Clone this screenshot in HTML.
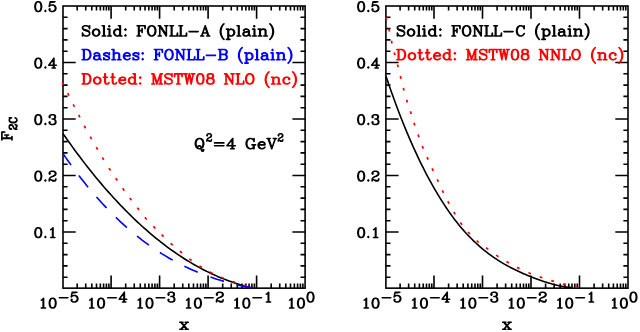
<!DOCTYPE html>
<html><head><meta charset="utf-8"><title>F2c</title>
<style>html,body{margin:0;padding:0;background:#fff;font-family:"Liberation Sans",sans-serif}svg{display:block}</style></head>
<body><svg width="640" height="332" viewBox="0 0 640 332">
<rect width="640" height="332" fill="#fff"/>
<rect x="63.00" y="6.00" width="242.10" height="282.15" fill="none" stroke="#000" stroke-width="1.6"/>
<path d="M77.20 288.15v-4.60M77.20 6.00v4.60M85.74 288.15v-4.60M85.74 6.00v4.60M91.80 288.15v-4.60M91.80 6.00v4.60M96.50 288.15v-4.60M96.50 6.00v4.60M100.34 288.15v-4.60M100.34 6.00v4.60M103.59 288.15v-4.60M103.59 6.00v4.60M106.40 288.15v-4.60M106.40 6.00v4.60M108.88 288.15v-4.60M108.88 6.00v4.60M111.10 288.15v-12.70M111.10 6.00v12.70M125.70 288.15v-4.60M125.70 6.00v4.60M134.24 288.15v-4.60M134.24 6.00v4.60M140.30 288.15v-4.60M140.30 6.00v4.60M145.00 288.15v-4.60M145.00 6.00v4.60M148.84 288.15v-4.60M148.84 6.00v4.60M152.09 288.15v-4.60M152.09 6.00v4.60M154.90 288.15v-4.60M154.90 6.00v4.60M157.38 288.15v-4.60M157.38 6.00v4.60M159.60 288.15v-12.70M159.60 6.00v12.70M174.20 288.15v-4.60M174.20 6.00v4.60M182.74 288.15v-4.60M182.74 6.00v4.60M188.80 288.15v-4.60M188.80 6.00v4.60M193.50 288.15v-4.60M193.50 6.00v4.60M197.34 288.15v-4.60M197.34 6.00v4.60M200.59 288.15v-4.60M200.59 6.00v4.60M203.40 288.15v-4.60M203.40 6.00v4.60M205.88 288.15v-4.60M205.88 6.00v4.60M208.10 288.15v-12.70M208.10 6.00v12.70M222.70 288.15v-4.60M222.70 6.00v4.60M231.24 288.15v-4.60M231.24 6.00v4.60M237.30 288.15v-4.60M237.30 6.00v4.60M242.00 288.15v-4.60M242.00 6.00v4.60M245.84 288.15v-4.60M245.84 6.00v4.60M249.09 288.15v-4.60M249.09 6.00v4.60M251.90 288.15v-4.60M251.90 6.00v4.60M254.38 288.15v-4.60M254.38 6.00v4.60M256.60 288.15v-12.70M256.60 6.00v12.70M271.20 288.15v-4.60M271.20 6.00v4.60M279.74 288.15v-4.60M279.74 6.00v4.60M285.80 288.15v-4.60M285.80 6.00v4.60M290.50 288.15v-4.60M290.50 6.00v4.60M294.34 288.15v-4.60M294.34 6.00v4.60M297.59 288.15v-4.60M297.59 6.00v4.60M300.40 288.15v-4.60M300.40 6.00v4.60M302.88 288.15v-4.60M302.88 6.00v4.60M63.00 277.20h4.60M305.10 277.20h-4.60M63.00 265.90h4.60M305.10 265.90h-4.60M63.00 254.60h4.60M305.10 254.60h-4.60M63.00 243.30h4.60M305.10 243.30h-4.60M63.00 232.00h12.70M305.10 232.00h-12.70M63.00 220.70h4.60M305.10 220.70h-4.60M63.00 209.40h4.60M305.10 209.40h-4.60M63.00 198.10h4.60M305.10 198.10h-4.60M63.00 186.80h4.60M305.10 186.80h-4.60M63.00 175.50h12.70M305.10 175.50h-12.70M63.00 164.20h4.60M305.10 164.20h-4.60M63.00 152.90h4.60M305.10 152.90h-4.60M63.00 141.60h4.60M305.10 141.60h-4.60M63.00 130.30h4.60M305.10 130.30h-4.60M63.00 119.00h12.70M305.10 119.00h-12.70M63.00 107.70h4.60M305.10 107.70h-4.60M63.00 96.40h4.60M305.10 96.40h-4.60M63.00 85.10h4.60M305.10 85.10h-4.60M63.00 73.80h4.60M305.10 73.80h-4.60M63.00 62.50h12.70M305.10 62.50h-12.70M63.00 51.20h4.60M305.10 51.20h-4.60M63.00 39.90h4.60M305.10 39.90h-4.60M63.00 28.60h4.60M305.10 28.60h-4.60M63.00 17.30h4.60M305.10 17.30h-4.60" stroke="#000" stroke-width="1.6" fill="none"/>
<rect x="385.90" y="6.00" width="242.10" height="282.15" fill="none" stroke="#000" stroke-width="1.6"/>
<path d="M400.10 288.15v-4.60M400.10 6.00v4.60M408.64 288.15v-4.60M408.64 6.00v4.60M414.70 288.15v-4.60M414.70 6.00v4.60M419.40 288.15v-4.60M419.40 6.00v4.60M423.24 288.15v-4.60M423.24 6.00v4.60M426.49 288.15v-4.60M426.49 6.00v4.60M429.30 288.15v-4.60M429.30 6.00v4.60M431.78 288.15v-4.60M431.78 6.00v4.60M434.00 288.15v-12.70M434.00 6.00v12.70M448.60 288.15v-4.60M448.60 6.00v4.60M457.14 288.15v-4.60M457.14 6.00v4.60M463.20 288.15v-4.60M463.20 6.00v4.60M467.90 288.15v-4.60M467.90 6.00v4.60M471.74 288.15v-4.60M471.74 6.00v4.60M474.99 288.15v-4.60M474.99 6.00v4.60M477.80 288.15v-4.60M477.80 6.00v4.60M480.28 288.15v-4.60M480.28 6.00v4.60M482.50 288.15v-12.70M482.50 6.00v12.70M497.10 288.15v-4.60M497.10 6.00v4.60M505.64 288.15v-4.60M505.64 6.00v4.60M511.70 288.15v-4.60M511.70 6.00v4.60M516.40 288.15v-4.60M516.40 6.00v4.60M520.24 288.15v-4.60M520.24 6.00v4.60M523.49 288.15v-4.60M523.49 6.00v4.60M526.30 288.15v-4.60M526.30 6.00v4.60M528.78 288.15v-4.60M528.78 6.00v4.60M531.00 288.15v-12.70M531.00 6.00v12.70M545.60 288.15v-4.60M545.60 6.00v4.60M554.14 288.15v-4.60M554.14 6.00v4.60M560.20 288.15v-4.60M560.20 6.00v4.60M564.90 288.15v-4.60M564.90 6.00v4.60M568.74 288.15v-4.60M568.74 6.00v4.60M571.99 288.15v-4.60M571.99 6.00v4.60M574.80 288.15v-4.60M574.80 6.00v4.60M577.28 288.15v-4.60M577.28 6.00v4.60M579.50 288.15v-12.70M579.50 6.00v12.70M594.10 288.15v-4.60M594.10 6.00v4.60M602.64 288.15v-4.60M602.64 6.00v4.60M608.70 288.15v-4.60M608.70 6.00v4.60M613.40 288.15v-4.60M613.40 6.00v4.60M617.24 288.15v-4.60M617.24 6.00v4.60M620.49 288.15v-4.60M620.49 6.00v4.60M623.30 288.15v-4.60M623.30 6.00v4.60M625.78 288.15v-4.60M625.78 6.00v4.60M385.90 277.20h4.60M628.00 277.20h-4.60M385.90 265.90h4.60M628.00 265.90h-4.60M385.90 254.60h4.60M628.00 254.60h-4.60M385.90 243.30h4.60M628.00 243.30h-4.60M385.90 232.00h12.70M628.00 232.00h-12.70M385.90 220.70h4.60M628.00 220.70h-4.60M385.90 209.40h4.60M628.00 209.40h-4.60M385.90 198.10h4.60M628.00 198.10h-4.60M385.90 186.80h4.60M628.00 186.80h-4.60M385.90 175.50h12.70M628.00 175.50h-12.70M385.90 164.20h4.60M628.00 164.20h-4.60M385.90 152.90h4.60M628.00 152.90h-4.60M385.90 141.60h4.60M628.00 141.60h-4.60M385.90 130.30h4.60M628.00 130.30h-4.60M385.90 119.00h12.70M628.00 119.00h-12.70M385.90 107.70h4.60M628.00 107.70h-4.60M385.90 96.40h4.60M628.00 96.40h-4.60M385.90 85.10h4.60M628.00 85.10h-4.60M385.90 73.80h4.60M628.00 73.80h-4.60M385.90 62.50h12.70M628.00 62.50h-12.70M385.90 51.20h4.60M628.00 51.20h-4.60M385.90 39.90h4.60M628.00 39.90h-4.60M385.90 28.60h4.60M628.00 28.60h-4.60M385.90 17.30h4.60M628.00 17.30h-4.60" stroke="#000" stroke-width="1.6" fill="none"/>
<path d="M63.00 133.59L65.40 137.04L67.79 140.44L70.19 143.81L72.58 147.13L74.98 150.41L77.38 153.65L79.77 156.85L82.17 160.01L84.57 163.13L86.96 166.22L89.36 169.25L91.75 172.25L94.15 175.22L96.55 178.14L98.94 181.02L101.34 183.86L103.74 186.66L106.13 189.42L108.53 192.15L110.92 194.83L113.32 197.47L115.72 200.08L118.11 202.65L120.51 205.18L122.91 207.67L125.30 210.12L127.70 212.53L130.09 214.91L132.49 217.25L134.89 219.55L137.28 221.81L139.68 224.03L142.07 226.22L144.47 228.36L146.87 230.47L149.26 232.55L151.66 234.58L154.06 236.58L156.45 238.55L158.85 240.47L161.24 242.36L163.64 244.21L166.04 246.02L168.43 247.80L170.83 249.54L173.23 251.25L175.62 252.92L178.02 254.55L180.41 256.15L182.81 257.71L185.21 259.24L187.60 260.73L190.00 262.18L192.39 263.60L194.79 264.98L197.19 266.33L199.58 267.65L201.98 268.93L204.38 270.17L206.77 271.38L209.17 272.55L211.56 273.69L213.96 274.80L216.36 275.87L218.75 276.90L221.15 277.91L223.55 278.87L225.94 279.81L228.34 280.71L230.73 281.58L233.13 282.41L235.53 283.21L237.92 283.97L240.32 284.71L242.72 285.41L245.11 286.07L247.51 286.71L249.90 287.31L252.30 287.85" stroke="#000" stroke-width="1.6" fill="none" stroke-linejoin="round"/>
<path d="M386.00 76.23L388.08 82.38L390.17 88.41L392.25 94.31L394.34 100.09L396.42 105.74L398.51 111.27L400.59 116.68L402.67 121.97L404.76 127.14L406.84 132.18L408.93 137.11L411.01 141.92L413.10 146.62L415.18 151.20L417.26 155.68L419.35 160.05L421.43 164.31L423.52 168.48L425.60 172.54L427.69 176.51L429.77 180.38L431.85 184.16L433.94 187.85L436.02 191.44L438.11 194.95L440.19 198.36L442.28 201.67L444.36 204.90L446.44 208.04L448.53 211.08L450.61 214.04L452.70 216.90L454.78 219.67L456.87 222.35L458.95 224.95L461.03 227.45L463.12 229.87L465.20 232.21L467.29 234.47L469.37 236.66L471.46 238.78L473.54 240.82L475.62 242.79L477.71 244.70L479.79 246.55L481.88 248.33L483.96 250.05L486.04 251.71L488.13 253.32L490.21 254.86L492.30 256.36L494.38 257.80L496.47 259.20L498.55 260.55L500.63 261.85L502.72 263.10L504.80 264.32L506.89 265.49L508.97 266.63L511.06 267.73L513.14 268.79L515.22 269.82L517.31 270.82L519.39 271.79L521.48 272.74L523.56 273.66L525.65 274.55L527.73 275.43L529.81 276.28L531.90 277.12L533.98 277.94L536.07 278.73L538.15 279.51L540.24 280.26L542.32 280.98L544.40 281.68L546.49 282.35L548.57 282.99L550.66 283.60L552.74 284.17L554.83 284.72L556.91 285.22L558.99 285.69L561.08 286.12L563.16 286.50L565.25 286.85L567.33 287.15L569.42 287.40L571.50 287.61" stroke="#000" stroke-width="1.6" fill="none" stroke-linejoin="round"/>
<path d="M62.80 153.34L64.46 155.75L66.12 158.14L67.78 160.49L69.44 162.82L71.10 165.12M78.90 175.57L80.74 177.95L82.58 180.30L84.42 182.61L86.26 184.89L88.10 187.14M96.50 197.01L98.52 199.29L100.54 201.53L102.56 203.73L104.58 205.90L106.60 208.03M115.90 217.40L118.10 219.51L120.30 221.58L122.50 223.61L124.70 225.60L126.90 227.56M137.00 236.04L139.38 237.93L141.76 239.77L144.14 241.57L146.52 243.33L148.90 245.05M159.90 252.49L162.46 254.10L165.02 255.67L167.58 257.20L170.14 258.69L172.70 260.13M184.40 266.23L187.06 267.50L189.72 268.74L192.38 269.93L195.04 271.09L197.70 272.21M210.50 277.08L213.20 278.01L215.90 278.90L218.60 279.76L221.30 280.59L224.00 281.38M237.00 284.79L240.00 285.48L243.00 286.14L246.00 286.76L249.00 287.36L252.00 287.93" stroke="#0000ff" stroke-width="1.6" fill="none"/>
<path d="M62.27 82.35L63.53 84.85M67.68 93.14L68.92 95.66M73.17 104.45L74.43 106.95M78.65 114.86L79.95 117.34M84.24 125.76L85.56 128.24M90.21 136.68L91.59 139.12M96.30 147.19L97.70 149.61M102.27 157.51L103.73 159.89M109.04 168.13L110.56 170.47M115.71 178.24L117.29 180.56M122.69 188.36L124.31 190.64M129.75 197.99L131.45 200.21M137.33 207.70L139.07 209.90M144.88 217.34L146.72 219.46M153.32 226.40L155.28 228.40M161.60 234.72L163.60 236.68M170.65 243.37L172.75 245.23M179.92 251.21L182.08 252.99M189.38 258.87L191.62 260.53M199.51 265.96L201.89 267.44M209.95 271.96L212.45 273.24M221.01 277.17L223.59 278.23M232.47 281.46L235.13 282.34M244.16 285.00L246.84 285.80" stroke="#ff0000" stroke-width="1.7" fill="none"/>
<path d="M385.86 16.94L386.54 19.66M388.88 28.84L389.52 31.56M391.39 40.74L392.01 43.46M394.25 52.44L394.95 55.16M397.45 64.44L398.15 67.16M400.36 76.04L401.04 78.76M403.34 87.85L404.06 90.55M406.60 99.76L407.40 102.44M410.37 111.37L411.23 114.03M413.96 122.87L414.84 125.53M418.02 134.58L418.98 137.22M422.28 146.00L423.32 148.60M427.03 157.12L428.17 159.68M432.12 168.33L433.28 170.87M437.21 179.43L438.39 181.97M442.28 190.34L443.52 192.86M447.84 201.27L449.16 203.73M453.78 212.00L455.22 214.40M460.37 222.47L462.03 224.73M468.05 231.97L469.95 234.03M476.64 240.59L478.76 242.41M486.07 247.77L488.33 249.43M496.14 255.12L498.46 256.68M506.49 261.60L508.91 263.00M517.05 267.37L519.55 268.63M528.40 272.77L531.00 273.83M539.77 276.85L542.43 277.75M551.26 280.59L553.94 281.41M562.94 284.06L565.66 284.74M574.83 286.70L577.57 287.30" stroke="#ff0000" stroke-width="1.7" fill="none"/>
<path d="M37.78 1.8L36.36 2.26L35.4 3.65L34.93 5.96L34.93 7.34L35.4 9.65L36.36 11.04L37.78 11.5L38.74 11.5L40.16 11.04L41.12 9.65L41.59 7.34L41.59 5.96L41.12 3.65L40.16 2.26L38.74 1.8L37.78 1.8M37.78 1.8L36.83 2.26L36.36 2.72L35.88 3.65L35.4 5.96L35.4 7.34L35.88 9.65L36.36 10.58L36.83 11.04L37.78 11.5M38.74 11.5L39.69 11.04L40.16 10.58L40.64 9.65L41.12 7.34L41.12 5.96L40.64 3.65L40.16 2.72L39.69 2.26L38.74 1.8M45.4 10.58L44.92 11.04L45.4 11.5L45.88 11.04L45.4 10.58M50.16 1.8L49.21 6.42M49.21 6.42L50.16 5.49L51.59 5.03L53.02 5.03L54.44 5.49L55.4 6.42L55.87 7.8L55.87 8.73L55.4 10.11L54.44 11.04L53.02 11.5L51.59 11.5L50.16 11.04L49.68 10.58L49.21 9.65L49.21 9.19L49.68 8.73L50.16 9.19L49.68 9.65M53.02 5.03L53.97 5.49L54.92 6.42L55.4 7.8L55.4 8.73L54.92 10.11L53.97 11.04L53.02 11.5M50.16 1.8L54.92 1.8M50.16 2.26L52.54 2.26L54.92 1.8" stroke="#000" stroke-width="1.55" fill="none" stroke-linecap="round" stroke-linejoin="round"/>
<path d="M37.78 58.3L36.36 58.76L35.4 60.15L34.93 62.46L34.93 63.84L35.4 66.15L36.36 67.54L37.78 68L38.74 68L40.16 67.54L41.12 66.15L41.59 63.84L41.59 62.46L41.12 60.15L40.16 58.76L38.74 58.3L37.78 58.3M37.78 58.3L36.83 58.76L36.36 59.22L35.88 60.15L35.4 62.46L35.4 63.84L35.88 66.15L36.36 67.08L36.83 67.54L37.78 68M38.74 68L39.69 67.54L40.16 67.08L40.64 66.15L41.12 63.84L41.12 62.46L40.64 60.15L40.16 59.22L39.69 58.76L38.74 58.3M45.4 67.08L44.92 67.54L45.4 68L45.88 67.54L45.4 67.08M53.49 59.22L53.49 68M53.97 58.3L53.97 68M53.97 58.3L48.73 65.23L56.35 65.23M52.06 68L55.4 68" stroke="#000" stroke-width="1.55" fill="none" stroke-linecap="round" stroke-linejoin="round"/>
<path d="M37.78 114.8L36.36 115.26L35.4 116.65L34.93 118.96L34.93 120.34L35.4 122.65L36.36 124.04L37.78 124.5L38.74 124.5L40.16 124.04L41.12 122.65L41.59 120.34L41.59 118.96L41.12 116.65L40.16 115.26L38.74 114.8L37.78 114.8M37.78 114.8L36.83 115.26L36.36 115.72L35.88 116.65L35.4 118.96L35.4 120.34L35.88 122.65L36.36 123.58L36.83 124.04L37.78 124.5M38.74 124.5L39.69 124.04L40.16 123.58L40.64 122.65L41.12 120.34L41.12 118.96L40.64 116.65L40.16 115.72L39.69 115.26L38.74 114.8M45.4 123.58L44.92 124.04L45.4 124.5L45.88 124.04L45.4 123.58M49.68 116.65L50.16 117.11L49.68 117.57L49.21 117.11L49.21 116.65L49.68 115.72L50.16 115.26L51.59 114.8L53.49 114.8L54.92 115.26L55.4 116.18L55.4 117.57L54.92 118.49L53.49 118.96L52.06 118.96M53.49 114.8L54.44 115.26L54.92 116.18L54.92 117.57L54.44 118.49L53.49 118.96M53.49 118.96L54.44 119.42L55.4 120.34L55.87 121.27L55.87 122.65L55.4 123.58L54.92 124.04L53.49 124.5L51.59 124.5L50.16 124.04L49.68 123.58L49.21 122.65L49.21 122.19L49.68 121.73L50.16 122.19L49.68 122.65M54.92 119.88L55.4 121.27L55.4 122.65L54.92 123.58L54.44 124.04L53.49 124.5" stroke="#000" stroke-width="1.55" fill="none" stroke-linecap="round" stroke-linejoin="round"/>
<path d="M37.78 171.3L36.36 171.76L35.4 173.15L34.93 175.46L34.93 176.84L35.4 179.15L36.36 180.54L37.78 181L38.74 181L40.16 180.54L41.12 179.15L41.59 176.84L41.59 175.46L41.12 173.15L40.16 171.76L38.74 171.3L37.78 171.3M37.78 171.3L36.83 171.76L36.36 172.22L35.88 173.15L35.4 175.46L35.4 176.84L35.88 179.15L36.36 180.08L36.83 180.54L37.78 181M38.74 181L39.69 180.54L40.16 180.08L40.64 179.15L41.12 176.84L41.12 175.46L40.64 173.15L40.16 172.22L39.69 171.76L38.74 171.3M45.4 180.08L44.92 180.54L45.4 181L45.88 180.54L45.4 180.08M49.68 173.15L50.16 173.61L49.68 174.07L49.21 173.61L49.21 173.15L49.68 172.22L50.16 171.76L51.59 171.3L53.49 171.3L54.92 171.76L55.4 172.22L55.87 173.15L55.87 174.07L55.4 174.99L53.97 175.92L51.59 176.84L50.64 177.3L49.68 178.23L49.21 179.61L49.21 181M53.49 171.3L54.44 171.76L54.92 172.22L55.4 173.15L55.4 174.07L54.92 174.99L53.49 175.92L51.59 176.84M49.21 180.08L49.68 179.61L50.64 179.61L53.02 180.54L54.44 180.54L55.4 180.08L55.87 179.61M50.64 179.61L53.02 181L54.92 181L55.4 180.54L55.87 179.61L55.87 178.69" stroke="#000" stroke-width="1.55" fill="none" stroke-linecap="round" stroke-linejoin="round"/>
<path d="M37.78 227.8L36.36 228.26L35.4 229.65L34.93 231.96L34.93 233.34L35.4 235.65L36.36 237.04L37.78 237.5L38.74 237.5L40.16 237.04L41.12 235.65L41.59 233.34L41.59 231.96L41.12 229.65L40.16 228.26L38.74 227.8L37.78 227.8M37.78 227.8L36.83 228.26L36.36 228.72L35.88 229.65L35.4 231.96L35.4 233.34L35.88 235.65L36.36 236.58L36.83 237.04L37.78 237.5M38.74 237.5L39.69 237.04L40.16 236.58L40.64 235.65L41.12 233.34L41.12 231.96L40.64 229.65L40.16 228.72L39.69 228.26L38.74 227.8M45.4 236.58L44.92 237.04L45.4 237.5L45.88 237.04L45.4 236.58M50.64 229.65L51.59 229.18L53.02 227.8L53.02 237.5M52.54 228.26L52.54 237.5M50.64 237.5L54.92 237.5" stroke="#000" stroke-width="1.55" fill="none" stroke-linecap="round" stroke-linejoin="round"/>
<path d="M41.23 300.15L42.18 299.68L43.61 298.3L43.61 308M43.13 298.76L43.13 308M41.23 308L45.51 308M52.17 298.3L50.75 298.76L49.79 300.15L49.32 302.46L49.32 303.84L49.79 306.15L50.75 307.54L52.17 308L53.13 308L54.55 307.54L55.51 306.15L55.98 303.84L55.98 302.46L55.51 300.15L54.55 298.76L53.13 298.3L52.17 298.3M52.17 298.3L51.22 298.76L50.75 299.22L50.27 300.15L49.79 302.46L49.79 303.84L50.27 306.15L50.75 307.08L51.22 307.54L52.17 308M53.13 308L54.08 307.54L54.55 307.08L55.03 306.15L55.51 303.84L55.51 302.46L55.03 300.15L54.55 299.22L54.08 298.76L53.13 298.3" stroke="#000" stroke-width="1.55" fill="none" stroke-linecap="round" stroke-linejoin="round"/>
<path d="M59.31 297.84L67.88 297.84M72.17 292.3L71.21 296.92M71.21 296.92L72.17 295.99L73.59 295.53L75.02 295.53L76.45 295.99L77.4 296.92L77.88 298.3L77.88 299.23L77.4 300.61L76.45 301.54L75.02 302L73.59 302L72.17 301.54L71.69 301.08L71.21 300.15L71.21 299.69L71.69 299.23L72.17 299.69L71.69 300.15M75.02 295.53L75.97 295.99L76.93 296.92L77.4 298.3L77.4 299.23L76.93 300.61L75.97 301.54L75.02 302M72.17 292.3L76.93 292.3M72.17 292.76L74.55 292.76L76.93 292.3" stroke="#000" stroke-width="1.55" fill="none" stroke-linecap="round" stroke-linejoin="round"/>
<path d="M89.65 300.15L90.6 299.68L92.03 298.3L92.03 308M91.55 298.76L91.55 308M89.65 308L93.93 308M100.59 298.3L99.17 298.76L98.21 300.15L97.74 302.46L97.74 303.84L98.21 306.15L99.17 307.54L100.59 308L101.55 308L102.97 307.54L103.93 306.15L104.4 303.84L104.4 302.46L103.93 300.15L102.97 298.76L101.55 298.3L100.59 298.3M100.59 298.3L99.64 298.76L99.17 299.22L98.69 300.15L98.21 302.46L98.21 303.84L98.69 306.15L99.17 307.08L99.64 307.54L100.59 308M101.55 308L102.5 307.54L102.97 307.08L103.45 306.15L103.93 303.84L103.93 302.46L103.45 300.15L102.97 299.22L102.5 298.76L101.55 298.3" stroke="#000" stroke-width="1.55" fill="none" stroke-linecap="round" stroke-linejoin="round"/>
<path d="M107.73 297.84L116.3 297.84M123.92 293.22L123.92 302M124.39 292.3L124.39 302M124.39 292.3L119.16 299.23L126.77 299.23M122.49 302L125.82 302" stroke="#000" stroke-width="1.55" fill="none" stroke-linecap="round" stroke-linejoin="round"/>
<path d="M138.07 300.15L139.02 299.68L140.45 298.3L140.45 308M139.97 298.76L139.97 308M138.07 308L142.35 308M149.01 298.3L147.59 298.76L146.63 300.15L146.16 302.46L146.16 303.84L146.63 306.15L147.59 307.54L149.01 308L149.97 308L151.39 307.54L152.35 306.15L152.82 303.84L152.82 302.46L152.35 300.15L151.39 298.76L149.97 298.3L149.01 298.3M149.01 298.3L148.06 298.76L147.59 299.22L147.11 300.15L146.63 302.46L146.63 303.84L147.11 306.15L147.59 307.08L148.06 307.54L149.01 308M149.97 308L150.92 307.54L151.39 307.08L151.87 306.15L152.35 303.84L152.35 302.46L151.87 300.15L151.39 299.22L150.92 298.76L149.97 298.3" stroke="#000" stroke-width="1.55" fill="none" stroke-linecap="round" stroke-linejoin="round"/>
<path d="M156.15 297.84L164.72 297.84M168.53 294.15L169.01 294.61L168.53 295.07L168.05 294.61L168.05 294.15L168.53 293.22L169.01 292.76L170.43 292.3L172.34 292.3L173.77 292.76L174.24 293.68L174.24 295.07L173.77 295.99L172.34 296.46L170.91 296.46M172.34 292.3L173.29 292.76L173.77 293.68L173.77 295.07L173.29 295.99L172.34 296.46M172.34 296.46L173.29 296.92L174.24 297.84L174.72 298.77L174.72 300.15L174.24 301.08L173.77 301.54L172.34 302L170.43 302L169.01 301.54L168.53 301.08L168.05 300.15L168.05 299.69L168.53 299.23L169.01 299.69L168.53 300.15M173.77 297.38L174.24 298.77L174.24 300.15L173.77 301.08L173.29 301.54L172.34 302" stroke="#000" stroke-width="1.55" fill="none" stroke-linecap="round" stroke-linejoin="round"/>
<path d="M186.49 300.15L187.44 299.68L188.87 298.3L188.87 308M188.39 298.76L188.39 308M186.49 308L190.77 308M197.43 298.3L196.01 298.76L195.05 300.15L194.58 302.46L194.58 303.84L195.05 306.15L196.01 307.54L197.43 308L198.39 308L199.81 307.54L200.77 306.15L201.24 303.84L201.24 302.46L200.77 300.15L199.81 298.76L198.39 298.3L197.43 298.3M197.43 298.3L196.48 298.76L196.01 299.22L195.53 300.15L195.05 302.46L195.05 303.84L195.53 306.15L196.01 307.08L196.48 307.54L197.43 308M198.39 308L199.34 307.54L199.81 307.08L200.29 306.15L200.77 303.84L200.77 302.46L200.29 300.15L199.81 299.22L199.34 298.76L198.39 298.3" stroke="#000" stroke-width="1.55" fill="none" stroke-linecap="round" stroke-linejoin="round"/>
<path d="M204.57 297.84L213.14 297.84M216.95 294.15L217.43 294.61L216.95 295.07L216.47 294.61L216.47 294.15L216.95 293.22L217.43 292.76L218.85 292.3L220.76 292.3L222.19 292.76L222.66 293.22L223.14 294.15L223.14 295.07L222.66 295.99L221.23 296.92L218.85 297.84L217.9 298.3L216.95 299.23L216.47 300.61L216.47 302M220.76 292.3L221.71 292.76L222.19 293.22L222.66 294.15L222.66 295.07L222.19 295.99L220.76 296.92L218.85 297.84M216.47 301.08L216.95 300.61L217.9 300.61L220.28 301.54L221.71 301.54L222.66 301.08L223.14 300.61M217.9 300.61L220.28 302L222.19 302L222.66 301.54L223.14 300.61L223.14 299.69" stroke="#000" stroke-width="1.55" fill="none" stroke-linecap="round" stroke-linejoin="round"/>
<path d="M234.91 300.15L235.86 299.68L237.29 298.3L237.29 308M236.81 298.76L236.81 308M234.91 308L239.19 308M245.85 298.3L244.43 298.76L243.47 300.15L243 302.46L243 303.84L243.47 306.15L244.43 307.54L245.85 308L246.81 308L248.23 307.54L249.19 306.15L249.66 303.84L249.66 302.46L249.19 300.15L248.23 298.76L246.81 298.3L245.85 298.3M245.85 298.3L244.9 298.76L244.43 299.22L243.95 300.15L243.47 302.46L243.47 303.84L243.95 306.15L244.43 307.08L244.9 307.54L245.85 308M246.81 308L247.76 307.54L248.23 307.08L248.71 306.15L249.19 303.84L249.19 302.46L248.71 300.15L248.23 299.22L247.76 298.76L246.81 298.3" stroke="#000" stroke-width="1.55" fill="none" stroke-linecap="round" stroke-linejoin="round"/>
<path d="M252.99 297.84L261.56 297.84M266.32 294.15L267.27 293.68L268.7 292.3L268.7 302M268.23 292.76L268.23 302M266.32 302L270.61 302" stroke="#000" stroke-width="1.55" fill="none" stroke-linecap="round" stroke-linejoin="round"/>
<path d="M289.57 300.15L290.52 299.68L291.95 298.3L291.95 308M291.47 298.76L291.47 308M289.57 308L293.85 308M300.51 298.3L299.09 298.76L298.13 300.15L297.66 302.46L297.66 303.84L298.13 306.15L299.09 307.54L300.51 308L301.47 308L302.89 307.54L303.85 306.15L304.32 303.84L304.32 302.46L303.85 300.15L302.89 298.76L301.47 298.3L300.51 298.3M300.51 298.3L299.56 298.76L299.09 299.22L298.61 300.15L298.13 302.46L298.13 303.84L298.61 306.15L299.09 307.08L299.56 307.54L300.51 308M301.47 308L302.42 307.54L302.89 307.08L303.37 306.15L303.85 303.84L303.85 302.46L303.37 300.15L302.89 299.22L302.42 298.76L301.47 298.3" stroke="#000" stroke-width="1.55" fill="none" stroke-linecap="round" stroke-linejoin="round"/>
<path d="M310.03 292.3L308.61 292.76L307.65 294.15L307.18 296.46L307.18 297.84L307.65 300.15L308.61 301.54L310.03 302L310.99 302L312.41 301.54L313.37 300.15L313.84 297.84L313.84 296.46L313.37 294.15L312.41 292.76L310.99 292.3L310.03 292.3M310.03 292.3L309.08 292.76L308.61 293.22L308.13 294.15L307.65 296.46L307.65 297.84L308.13 300.15L308.61 301.08L309.08 301.54L310.03 302M310.99 302L311.94 301.54L312.41 301.08L312.89 300.15L313.37 297.84L313.37 296.46L312.89 294.15L312.41 293.22L311.94 292.76L310.99 292.3" stroke="#000" stroke-width="1.55" fill="none" stroke-linecap="round" stroke-linejoin="round"/>
<path d="M180.87 322.2L186.7 329.2M181.4 322.2L187.23 329.2M187.23 322.2L180.87 329.2M179.81 322.2L182.99 322.2M185.11 322.2L188.29 322.2M179.81 329.2L182.99 329.2M185.11 329.2L188.29 329.2" stroke="#000" stroke-width="1.65" fill="none" stroke-linecap="round" stroke-linejoin="round"/>
<path d="M360.68 1.8L359.26 2.26L358.3 3.65L357.83 5.96L357.83 7.34L358.3 9.65L359.26 11.04L360.68 11.5L361.64 11.5L363.06 11.04L364.02 9.65L364.49 7.34L364.49 5.96L364.02 3.65L363.06 2.26L361.64 1.8L360.68 1.8M360.68 1.8L359.73 2.26L359.26 2.72L358.78 3.65L358.3 5.96L358.3 7.34L358.78 9.65L359.26 10.58L359.73 11.04L360.68 11.5M361.64 11.5L362.59 11.04L363.06 10.58L363.54 9.65L364.02 7.34L364.02 5.96L363.54 3.65L363.06 2.72L362.59 2.26L361.64 1.8M368.3 10.58L367.82 11.04L368.3 11.5L368.78 11.04L368.3 10.58M373.06 1.8L372.11 6.42M372.11 6.42L373.06 5.49L374.49 5.03L375.92 5.03L377.34 5.49L378.3 6.42L378.77 7.8L378.77 8.73L378.3 10.11L377.34 11.04L375.92 11.5L374.49 11.5L373.06 11.04L372.58 10.58L372.11 9.65L372.11 9.19L372.58 8.73L373.06 9.19L372.58 9.65M375.92 5.03L376.87 5.49L377.82 6.42L378.3 7.8L378.3 8.73L377.82 10.11L376.87 11.04L375.92 11.5M373.06 1.8L377.82 1.8M373.06 2.26L375.44 2.26L377.82 1.8" stroke="#000" stroke-width="1.55" fill="none" stroke-linecap="round" stroke-linejoin="round"/>
<path d="M360.68 58.3L359.26 58.76L358.3 60.15L357.83 62.46L357.83 63.84L358.3 66.15L359.26 67.54L360.68 68L361.64 68L363.06 67.54L364.02 66.15L364.49 63.84L364.49 62.46L364.02 60.15L363.06 58.76L361.64 58.3L360.68 58.3M360.68 58.3L359.73 58.76L359.26 59.22L358.78 60.15L358.3 62.46L358.3 63.84L358.78 66.15L359.26 67.08L359.73 67.54L360.68 68M361.64 68L362.59 67.54L363.06 67.08L363.54 66.15L364.02 63.84L364.02 62.46L363.54 60.15L363.06 59.22L362.59 58.76L361.64 58.3M368.3 67.08L367.82 67.54L368.3 68L368.78 67.54L368.3 67.08M376.39 59.22L376.39 68M376.87 58.3L376.87 68M376.87 58.3L371.63 65.23L379.25 65.23M374.96 68L378.3 68" stroke="#000" stroke-width="1.55" fill="none" stroke-linecap="round" stroke-linejoin="round"/>
<path d="M360.68 114.8L359.26 115.26L358.3 116.65L357.83 118.96L357.83 120.34L358.3 122.65L359.26 124.04L360.68 124.5L361.64 124.5L363.06 124.04L364.02 122.65L364.49 120.34L364.49 118.96L364.02 116.65L363.06 115.26L361.64 114.8L360.68 114.8M360.68 114.8L359.73 115.26L359.26 115.72L358.78 116.65L358.3 118.96L358.3 120.34L358.78 122.65L359.26 123.58L359.73 124.04L360.68 124.5M361.64 124.5L362.59 124.04L363.06 123.58L363.54 122.65L364.02 120.34L364.02 118.96L363.54 116.65L363.06 115.72L362.59 115.26L361.64 114.8M368.3 123.58L367.82 124.04L368.3 124.5L368.78 124.04L368.3 123.58M372.58 116.65L373.06 117.11L372.58 117.57L372.11 117.11L372.11 116.65L372.58 115.72L373.06 115.26L374.49 114.8L376.39 114.8L377.82 115.26L378.3 116.18L378.3 117.57L377.82 118.49L376.39 118.96L374.96 118.96M376.39 114.8L377.34 115.26L377.82 116.18L377.82 117.57L377.34 118.49L376.39 118.96M376.39 118.96L377.34 119.42L378.3 120.34L378.77 121.27L378.77 122.65L378.3 123.58L377.82 124.04L376.39 124.5L374.49 124.5L373.06 124.04L372.58 123.58L372.11 122.65L372.11 122.19L372.58 121.73L373.06 122.19L372.58 122.65M377.82 119.88L378.3 121.27L378.3 122.65L377.82 123.58L377.34 124.04L376.39 124.5" stroke="#000" stroke-width="1.55" fill="none" stroke-linecap="round" stroke-linejoin="round"/>
<path d="M360.68 171.3L359.26 171.76L358.3 173.15L357.83 175.46L357.83 176.84L358.3 179.15L359.26 180.54L360.68 181L361.64 181L363.06 180.54L364.02 179.15L364.49 176.84L364.49 175.46L364.02 173.15L363.06 171.76L361.64 171.3L360.68 171.3M360.68 171.3L359.73 171.76L359.26 172.22L358.78 173.15L358.3 175.46L358.3 176.84L358.78 179.15L359.26 180.08L359.73 180.54L360.68 181M361.64 181L362.59 180.54L363.06 180.08L363.54 179.15L364.02 176.84L364.02 175.46L363.54 173.15L363.06 172.22L362.59 171.76L361.64 171.3M368.3 180.08L367.82 180.54L368.3 181L368.78 180.54L368.3 180.08M372.58 173.15L373.06 173.61L372.58 174.07L372.11 173.61L372.11 173.15L372.58 172.22L373.06 171.76L374.49 171.3L376.39 171.3L377.82 171.76L378.3 172.22L378.77 173.15L378.77 174.07L378.3 174.99L376.87 175.92L374.49 176.84L373.54 177.3L372.58 178.23L372.11 179.61L372.11 181M376.39 171.3L377.34 171.76L377.82 172.22L378.3 173.15L378.3 174.07L377.82 174.99L376.39 175.92L374.49 176.84M372.11 180.08L372.58 179.61L373.54 179.61L375.92 180.54L377.34 180.54L378.3 180.08L378.77 179.61M373.54 179.61L375.92 181L377.82 181L378.3 180.54L378.77 179.61L378.77 178.69" stroke="#000" stroke-width="1.55" fill="none" stroke-linecap="round" stroke-linejoin="round"/>
<path d="M360.68 227.8L359.26 228.26L358.3 229.65L357.83 231.96L357.83 233.34L358.3 235.65L359.26 237.04L360.68 237.5L361.64 237.5L363.06 237.04L364.02 235.65L364.49 233.34L364.49 231.96L364.02 229.65L363.06 228.26L361.64 227.8L360.68 227.8M360.68 227.8L359.73 228.26L359.26 228.72L358.78 229.65L358.3 231.96L358.3 233.34L358.78 235.65L359.26 236.58L359.73 237.04L360.68 237.5M361.64 237.5L362.59 237.04L363.06 236.58L363.54 235.65L364.02 233.34L364.02 231.96L363.54 229.65L363.06 228.72L362.59 228.26L361.64 227.8M368.3 236.58L367.82 237.04L368.3 237.5L368.78 237.04L368.3 236.58M373.54 229.65L374.49 229.18L375.92 227.8L375.92 237.5M375.44 228.26L375.44 237.5M373.54 237.5L377.82 237.5" stroke="#000" stroke-width="1.55" fill="none" stroke-linecap="round" stroke-linejoin="round"/>
<path d="M364.13 300.15L365.08 299.68L366.51 298.3L366.51 308M366.03 298.76L366.03 308M364.13 308L368.41 308M375.07 298.3L373.65 298.76L372.69 300.15L372.22 302.46L372.22 303.84L372.69 306.15L373.65 307.54L375.07 308L376.03 308L377.45 307.54L378.41 306.15L378.88 303.84L378.88 302.46L378.41 300.15L377.45 298.76L376.03 298.3L375.07 298.3M375.07 298.3L374.12 298.76L373.65 299.22L373.17 300.15L372.69 302.46L372.69 303.84L373.17 306.15L373.65 307.08L374.12 307.54L375.07 308M376.03 308L376.98 307.54L377.45 307.08L377.93 306.15L378.41 303.84L378.41 302.46L377.93 300.15L377.45 299.22L376.98 298.76L376.03 298.3" stroke="#000" stroke-width="1.55" fill="none" stroke-linecap="round" stroke-linejoin="round"/>
<path d="M382.21 297.84L390.78 297.84M395.07 292.3L394.11 296.92M394.11 296.92L395.07 295.99L396.49 295.53L397.92 295.53L399.35 295.99L400.3 296.92L400.78 298.3L400.78 299.23L400.3 300.61L399.35 301.54L397.92 302L396.49 302L395.07 301.54L394.59 301.08L394.11 300.15L394.11 299.69L394.59 299.23L395.07 299.69L394.59 300.15M397.92 295.53L398.87 295.99L399.83 296.92L400.3 298.3L400.3 299.23L399.83 300.61L398.87 301.54L397.92 302M395.07 292.3L399.83 292.3M395.07 292.76L397.45 292.76L399.83 292.3" stroke="#000" stroke-width="1.55" fill="none" stroke-linecap="round" stroke-linejoin="round"/>
<path d="M412.55 300.15L413.5 299.68L414.93 298.3L414.93 308M414.45 298.76L414.45 308M412.55 308L416.83 308M423.49 298.3L422.07 298.76L421.11 300.15L420.64 302.46L420.64 303.84L421.11 306.15L422.07 307.54L423.49 308L424.45 308L425.87 307.54L426.83 306.15L427.3 303.84L427.3 302.46L426.83 300.15L425.87 298.76L424.45 298.3L423.49 298.3M423.49 298.3L422.54 298.76L422.07 299.22L421.59 300.15L421.11 302.46L421.11 303.84L421.59 306.15L422.07 307.08L422.54 307.54L423.49 308M424.45 308L425.4 307.54L425.87 307.08L426.35 306.15L426.83 303.84L426.83 302.46L426.35 300.15L425.87 299.22L425.4 298.76L424.45 298.3" stroke="#000" stroke-width="1.55" fill="none" stroke-linecap="round" stroke-linejoin="round"/>
<path d="M430.63 297.84L439.2 297.84M446.82 293.22L446.82 302M447.29 292.3L447.29 302M447.29 292.3L442.06 299.23L449.67 299.23M445.39 302L448.72 302" stroke="#000" stroke-width="1.55" fill="none" stroke-linecap="round" stroke-linejoin="round"/>
<path d="M460.97 300.15L461.92 299.68L463.35 298.3L463.35 308M462.87 298.76L462.87 308M460.97 308L465.25 308M471.91 298.3L470.49 298.76L469.53 300.15L469.06 302.46L469.06 303.84L469.53 306.15L470.49 307.54L471.91 308L472.87 308L474.29 307.54L475.25 306.15L475.72 303.84L475.72 302.46L475.25 300.15L474.29 298.76L472.87 298.3L471.91 298.3M471.91 298.3L470.96 298.76L470.49 299.22L470.01 300.15L469.53 302.46L469.53 303.84L470.01 306.15L470.49 307.08L470.96 307.54L471.91 308M472.87 308L473.82 307.54L474.29 307.08L474.77 306.15L475.25 303.84L475.25 302.46L474.77 300.15L474.29 299.22L473.82 298.76L472.87 298.3" stroke="#000" stroke-width="1.55" fill="none" stroke-linecap="round" stroke-linejoin="round"/>
<path d="M479.05 297.84L487.62 297.84M491.43 294.15L491.91 294.61L491.43 295.07L490.95 294.61L490.95 294.15L491.43 293.22L491.91 292.76L493.33 292.3L495.24 292.3L496.67 292.76L497.14 293.68L497.14 295.07L496.67 295.99L495.24 296.46L493.81 296.46M495.24 292.3L496.19 292.76L496.67 293.68L496.67 295.07L496.19 295.99L495.24 296.46M495.24 296.46L496.19 296.92L497.14 297.84L497.62 298.77L497.62 300.15L497.14 301.08L496.67 301.54L495.24 302L493.33 302L491.91 301.54L491.43 301.08L490.95 300.15L490.95 299.69L491.43 299.23L491.91 299.69L491.43 300.15M496.67 297.38L497.14 298.77L497.14 300.15L496.67 301.08L496.19 301.54L495.24 302" stroke="#000" stroke-width="1.55" fill="none" stroke-linecap="round" stroke-linejoin="round"/>
<path d="M509.39 300.15L510.34 299.68L511.77 298.3L511.77 308M511.29 298.76L511.29 308M509.39 308L513.67 308M520.33 298.3L518.91 298.76L517.95 300.15L517.48 302.46L517.48 303.84L517.95 306.15L518.91 307.54L520.33 308L521.29 308L522.71 307.54L523.67 306.15L524.14 303.84L524.14 302.46L523.67 300.15L522.71 298.76L521.29 298.3L520.33 298.3M520.33 298.3L519.38 298.76L518.91 299.22L518.43 300.15L517.95 302.46L517.95 303.84L518.43 306.15L518.91 307.08L519.38 307.54L520.33 308M521.29 308L522.24 307.54L522.71 307.08L523.19 306.15L523.67 303.84L523.67 302.46L523.19 300.15L522.71 299.22L522.24 298.76L521.29 298.3" stroke="#000" stroke-width="1.55" fill="none" stroke-linecap="round" stroke-linejoin="round"/>
<path d="M527.47 297.84L536.04 297.84M539.85 294.15L540.33 294.61L539.85 295.07L539.37 294.61L539.37 294.15L539.85 293.22L540.33 292.76L541.75 292.3L543.66 292.3L545.09 292.76L545.56 293.22L546.04 294.15L546.04 295.07L545.56 295.99L544.13 296.92L541.75 297.84L540.8 298.3L539.85 299.23L539.37 300.61L539.37 302M543.66 292.3L544.61 292.76L545.09 293.22L545.56 294.15L545.56 295.07L545.09 295.99L543.66 296.92L541.75 297.84M539.37 301.08L539.85 300.61L540.8 300.61L543.18 301.54L544.61 301.54L545.56 301.08L546.04 300.61M540.8 300.61L543.18 302L545.09 302L545.56 301.54L546.04 300.61L546.04 299.69" stroke="#000" stroke-width="1.55" fill="none" stroke-linecap="round" stroke-linejoin="round"/>
<path d="M557.81 300.15L558.76 299.68L560.19 298.3L560.19 308M559.71 298.76L559.71 308M557.81 308L562.09 308M568.75 298.3L567.33 298.76L566.37 300.15L565.9 302.46L565.9 303.84L566.37 306.15L567.33 307.54L568.75 308L569.71 308L571.13 307.54L572.09 306.15L572.56 303.84L572.56 302.46L572.09 300.15L571.13 298.76L569.71 298.3L568.75 298.3M568.75 298.3L567.8 298.76L567.33 299.22L566.85 300.15L566.37 302.46L566.37 303.84L566.85 306.15L567.33 307.08L567.8 307.54L568.75 308M569.71 308L570.66 307.54L571.13 307.08L571.61 306.15L572.09 303.84L572.09 302.46L571.61 300.15L571.13 299.22L570.66 298.76L569.71 298.3" stroke="#000" stroke-width="1.55" fill="none" stroke-linecap="round" stroke-linejoin="round"/>
<path d="M575.89 297.84L584.46 297.84M589.22 294.15L590.17 293.68L591.6 292.3L591.6 302M591.13 292.76L591.13 302M589.22 302L593.51 302" stroke="#000" stroke-width="1.55" fill="none" stroke-linecap="round" stroke-linejoin="round"/>
<path d="M612.47 300.15L613.42 299.68L614.85 298.3L614.85 308M614.37 298.76L614.37 308M612.47 308L616.75 308M623.41 298.3L621.99 298.76L621.03 300.15L620.56 302.46L620.56 303.84L621.03 306.15L621.99 307.54L623.41 308L624.37 308L625.79 307.54L626.75 306.15L627.22 303.84L627.22 302.46L626.75 300.15L625.79 298.76L624.37 298.3L623.41 298.3M623.41 298.3L622.46 298.76L621.99 299.22L621.51 300.15L621.03 302.46L621.03 303.84L621.51 306.15L621.99 307.08L622.46 307.54L623.41 308M624.37 308L625.32 307.54L625.79 307.08L626.27 306.15L626.75 303.84L626.75 302.46L626.27 300.15L625.79 299.22L625.32 298.76L624.37 298.3" stroke="#000" stroke-width="1.55" fill="none" stroke-linecap="round" stroke-linejoin="round"/>
<path d="M632.93 292.3L631.51 292.76L630.55 294.15L630.08 296.46L630.08 297.84L630.55 300.15L631.51 301.54L632.93 302L633.89 302L635.31 301.54L636.27 300.15L636.74 297.84L636.74 296.46L636.27 294.15L635.31 292.76L633.89 292.3L632.93 292.3M632.93 292.3L631.98 292.76L631.51 293.22L631.03 294.15L630.55 296.46L630.55 297.84L631.03 300.15L631.51 301.08L631.98 301.54L632.93 302M633.89 302L634.84 301.54L635.31 301.08L635.79 300.15L636.27 297.84L636.27 296.46L635.79 294.15L635.31 293.22L634.84 292.76L633.89 292.3" stroke="#000" stroke-width="1.55" fill="none" stroke-linecap="round" stroke-linejoin="round"/>
<path d="M503.77 322.2L509.6 329.2M504.3 322.2L510.13 329.2M510.13 322.2L503.77 329.2M502.71 322.2L505.89 322.2M508.01 322.2L511.19 322.2M502.71 329.2L505.89 329.2M508.01 329.2L511.19 329.2" stroke="#000" stroke-width="1.65" fill="none" stroke-linecap="round" stroke-linejoin="round"/>
<path d="M1.9 138.5L12 138.5M1.9 138L12 138M4.79 135L8.63 135M1.9 140L1.9 132L4.79 132L1.9 132.5M6.71 138L6.71 135M12 140L12 136.5" stroke="#000" stroke-width="1.65" fill="none" stroke-linecap="round" stroke-linejoin="round"/>
<path d="M10.75 128.98L11.11 128.66L11.47 128.98L11.11 129.31L10.75 129.31L10.02 128.98L9.66 128.66L9.3 127.67L9.3 126.35L9.66 125.37L10.02 125.04L10.75 124.71L11.47 124.71L12.19 125.04L12.92 126.02L13.64 127.67L14 128.33L14.73 128.98L15.81 129.31L16.9 129.31M9.3 126.35L9.66 125.69L10.02 125.37L10.75 125.04L11.47 125.04L12.19 125.37L12.92 126.35L13.64 127.67M16.18 129.31L15.81 128.98L15.81 128.33L16.54 126.68L16.54 125.69L16.18 125.04L15.81 124.71M15.81 128.33L16.9 126.68L16.9 125.37L16.54 125.04L15.81 124.71L15.09 124.71M10.38 118.13L11.47 117.8L9.3 117.8L10.38 118.13L9.66 118.79L9.3 119.77L9.3 120.43L9.66 121.42L10.38 122.08L11.11 122.4L12.19 122.73L14 122.73L15.09 122.4L15.81 122.08L16.54 121.42L16.9 120.43L16.9 119.77L16.54 118.79L15.81 118.13L15.09 117.8M9.3 120.43L9.66 121.09L10.38 121.75L11.11 122.08L12.19 122.4L14 122.4L15.09 122.08L15.81 121.75L16.54 121.09L16.9 120.43" stroke="#000" stroke-width="1.6" fill="none" stroke-linecap="round" stroke-linejoin="round"/>
<path d="M89.08 27.22L89.59 25.77L89.59 28.68L89.08 27.22L88.07 26.25L86.56 25.77L85.04 25.77L83.53 26.25L82.52 27.22L82.52 28.19L83.02 29.16L83.53 29.65L84.53 30.13L87.56 31.1L88.58 31.59L89.59 32.55M82.52 28.19L83.53 29.16L84.53 29.65L87.56 30.62L88.58 31.1L89.08 31.59L89.59 32.55L89.59 34.5L88.58 35.47L87.06 35.95L85.55 35.95L84.03 35.47L83.02 34.5L82.52 33.04L82.52 35.95L83.02 34.5M95.64 29.16L94.13 29.65L93.12 30.62L92.61 32.07L92.61 33.04L93.12 34.5L94.13 35.47L95.64 35.95L96.66 35.95L98.17 35.47L99.18 34.5L99.69 33.04L99.69 32.07L99.18 30.62L98.17 29.65L96.66 29.16L95.64 29.16M95.64 29.16L94.64 29.65L93.62 30.62L93.12 32.07L93.12 33.04L93.62 34.5L94.64 35.47L95.64 35.95M96.66 35.95L97.66 35.47L98.67 34.5L99.18 33.04L99.18 32.07L98.67 30.62L97.66 29.65L96.66 29.16M103.72 25.77L103.72 35.95M104.23 25.77L104.23 35.95M102.21 25.77L104.23 25.77M102.21 35.95L105.75 35.95M109.28 25.77L108.78 26.25L109.28 26.74L109.78 26.25L109.28 25.77M109.28 29.16L109.28 35.95M109.78 29.16L109.78 35.95M107.77 29.16L109.78 29.16M107.77 35.95L111.3 35.95M119.88 25.77L119.88 35.95M120.39 25.77L120.39 35.95M119.88 30.62L118.88 29.65L117.86 29.16L116.85 29.16L115.34 29.65L114.33 30.62L113.82 32.07L113.82 33.04L114.33 34.5L115.34 35.47L116.85 35.95L117.86 35.95L118.88 35.47L119.88 34.5M116.85 29.16L115.84 29.65L114.84 30.62L114.33 32.07L114.33 33.04L114.84 34.5L115.84 35.47L116.85 35.95M118.37 25.77L120.39 25.77M119.88 35.95L121.91 35.95M125.44 29.16L124.94 29.65L125.44 30.13L125.94 29.65L125.44 29.16M125.44 34.98L124.94 35.47L125.44 35.95L125.94 35.47L125.44 34.98M138.57 25.77L138.57 35.95M139.07 25.77L139.07 35.95M142.1 28.68L142.1 32.55M137.06 25.77L145.13 25.77L145.13 28.68L144.63 25.77M139.07 30.62L142.1 30.62M137.06 35.95L140.59 35.95M151.19 25.77L149.68 26.25L148.67 27.22L148.16 28.19L147.66 30.13L147.66 31.59L148.16 33.53L148.67 34.5L149.68 35.47L151.19 35.95L152.2 35.95L153.72 35.47L154.73 34.5L155.24 33.53L155.74 31.59L155.74 30.13L155.24 28.19L154.73 27.22L153.72 26.25L152.2 25.77L151.19 25.77M151.19 25.77L150.19 26.25L149.18 27.22L148.67 28.19L148.16 30.13L148.16 31.59L148.67 33.53L149.18 34.5L150.19 35.47L151.19 35.95M152.2 35.95L153.22 35.47L154.22 34.5L154.73 33.53L155.24 31.59L155.24 30.13L154.73 28.19L154.22 27.22L153.22 26.25L152.2 25.77M159.78 25.77L159.78 35.95M160.28 25.77L166.34 34.98M160.28 26.74L166.34 35.95M166.34 25.77L166.34 35.95M158.26 25.77L160.28 25.77M164.83 25.77L167.86 25.77M158.26 35.95L161.3 35.95M171.39 25.77L171.39 35.95M171.9 25.77L171.9 35.95M169.88 25.77L173.41 25.77M169.88 35.95L177.45 35.95L177.45 33.04L176.95 35.95M180.49 25.77L180.49 35.95M180.99 25.77L180.99 35.95M178.97 25.77L182.5 25.77M178.97 35.95L186.54 35.95L186.54 33.04L186.04 35.95M189.07 31.59L198.16 31.59M205.23 25.77L201.69 35.95M205.23 25.77L208.76 35.95M205.23 27.22L208.26 35.95M202.7 33.04L207.25 33.04M200.69 35.95L203.71 35.95M206.75 35.95L209.78 35.95M223.92 23.83L222.91 24.8L221.9 26.25L220.89 28.19L220.38 30.62L220.38 32.55L220.89 34.98L221.9 36.92L222.91 38.38L223.92 39.35M222.91 24.8L221.9 26.74L221.39 28.19L220.89 30.62L220.89 32.55L221.39 34.98L221.9 36.44L222.91 38.38M227.96 29.16L227.96 39.35M228.46 29.16L228.46 39.35M228.46 30.62L229.47 29.65L230.48 29.16L231.49 29.16L233 29.65L234.02 30.62L234.52 32.07L234.52 33.04L234.02 34.5L233 35.47L231.49 35.95L230.48 35.95L229.47 35.47L228.46 34.5M231.49 29.16L232.5 29.65L233.51 30.62L234.02 32.07L234.02 33.04L233.51 34.5L232.5 35.47L231.49 35.95M226.44 29.16L228.46 29.16M226.44 39.35L229.97 39.35M238.56 25.77L238.56 35.95M239.06 25.77L239.06 35.95M237.04 25.77L239.06 25.77M237.04 35.95L240.58 35.95M244.12 30.13L244.12 30.62L243.61 30.62L243.61 30.13L244.12 29.65L245.12 29.16L247.15 29.16L248.16 29.65L248.66 30.13L249.16 31.1L249.16 34.5L249.67 35.47L250.18 35.95M248.66 30.13L248.66 34.5L249.16 35.47L250.18 35.95L250.68 35.95M248.66 31.1L248.16 31.59L245.12 32.07L243.61 32.55L243.1 33.53L243.1 34.5L243.61 35.47L245.12 35.95L246.64 35.95L247.65 35.47L248.66 34.5M245.12 32.07L244.12 32.55L243.61 33.53L243.61 34.5L244.12 35.47L245.12 35.95M254.22 25.77L253.71 26.25L254.22 26.74L254.72 26.25L254.22 25.77M254.22 29.16L254.22 35.95M254.72 29.16L254.72 35.95M252.7 29.16L254.72 29.16M252.7 35.95L256.24 35.95M259.77 29.16L259.77 35.95M260.27 29.16L260.27 35.95M260.27 30.62L261.28 29.65L262.8 29.16L263.81 29.16L265.33 29.65L265.83 30.62L265.83 35.95M263.81 29.16L264.82 29.65L265.33 30.62L265.33 35.95M258.25 29.16L260.27 29.16M258.25 35.95L261.79 35.95M263.81 35.95L267.35 35.95M269.87 23.83L270.88 24.8L271.89 26.25L272.9 28.19L273.41 30.62L273.41 32.55L272.9 34.98L271.89 36.92L270.88 38.38L269.87 39.35M270.88 24.8L271.89 26.74L272.39 28.19L272.9 30.62L272.9 32.55L272.39 34.98L271.89 36.44L270.88 38.38" stroke="#000" stroke-width="1.65" fill="none" stroke-linecap="round" stroke-linejoin="round"/>
<path d="M83.62 49.52L83.62 59.7M84.13 49.52L84.13 59.7M82.11 49.52L87.16 49.52L88.67 50L89.69 50.97L90.19 51.94L90.69 53.4L90.69 55.82L90.19 57.28L89.69 58.25L88.67 59.22L87.16 59.7L82.11 59.7M87.16 49.52L88.17 50L89.18 50.97L89.69 51.94L90.19 53.4L90.19 55.82L89.69 57.28L89.18 58.25L88.17 59.22L87.16 59.7M94.73 53.88L94.73 54.37L94.23 54.37L94.23 53.88L94.73 53.4L95.74 52.91L97.76 52.91L98.77 53.4L99.28 53.88L99.78 54.85L99.78 58.25L100.29 59.22L100.79 59.7M99.28 53.88L99.28 58.25L99.78 59.22L100.79 59.7L101.3 59.7M99.28 54.85L98.77 55.34L95.74 55.82L94.23 56.3L93.72 57.28L93.72 58.25L94.23 59.22L95.74 59.7L97.26 59.7L98.27 59.22L99.28 58.25M95.74 55.82L94.73 56.3L94.23 57.28L94.23 58.25L94.73 59.22L95.74 59.7M108.88 53.88L109.38 52.91L109.38 54.85L108.88 53.88L108.37 53.4L107.36 52.91L105.34 52.91L104.33 53.4L103.82 53.88L103.82 54.85L104.33 55.34L105.34 55.82L107.86 56.79L108.88 57.28L109.38 57.76M103.82 54.37L104.33 54.85L105.34 55.34L107.86 56.3L108.88 56.79L109.38 57.28L109.38 58.73L108.88 59.22L107.86 59.7L105.84 59.7L104.83 59.22L104.33 58.73L103.82 57.76L103.82 59.7L104.33 58.73M113.42 49.52L113.42 59.7M113.92 49.52L113.92 59.7M113.92 54.37L114.94 53.4L116.45 52.91L117.46 52.91L118.97 53.4L119.48 54.37L119.48 59.7M117.46 52.91L118.47 53.4L118.97 54.37L118.97 59.7M111.91 49.52L113.92 49.52M111.91 59.7L115.44 59.7M117.46 59.7L121 59.7M124.03 55.82L130.08 55.82L130.08 54.85L129.58 53.88L129.07 53.4L128.06 52.91L126.55 52.91L125.03 53.4L124.03 54.37L123.52 55.82L123.52 56.79L124.03 58.25L125.03 59.22L126.55 59.7L127.56 59.7L129.07 59.22L130.08 58.25M129.58 55.82L129.58 54.37L129.07 53.4M126.55 52.91L125.54 53.4L124.53 54.37L124.03 55.82L124.03 56.79L124.53 58.25L125.54 59.22L126.55 59.7M138.16 53.88L138.67 52.91L138.67 54.85L138.16 53.88L137.66 53.4L136.65 52.91L134.63 52.91L133.62 53.4L133.12 53.88L133.12 54.85L133.62 55.34L134.63 55.82L137.16 56.79L138.16 57.28L138.67 57.76M133.12 54.37L133.62 54.85L134.63 55.34L137.16 56.3L138.16 56.79L138.67 57.28L138.67 58.73L138.16 59.22L137.16 59.7L135.13 59.7L134.12 59.22L133.62 58.73L133.12 57.76L133.12 59.7L133.62 58.73M142.71 52.91L142.2 53.4L142.71 53.88L143.22 53.4L142.71 52.91M142.71 58.73L142.2 59.22L142.71 59.7L143.22 59.22L142.71 58.73M155.84 49.52L155.84 59.7M156.34 49.52L156.34 59.7M159.38 52.43L159.38 56.3M154.32 49.52L162.41 49.52L162.41 52.43L161.9 49.52M156.34 54.37L159.38 54.37M154.32 59.7L157.86 59.7M168.46 49.52L166.95 50L165.94 50.97L165.44 51.94L164.93 53.88L164.93 55.34L165.44 57.28L165.94 58.25L166.95 59.22L168.46 59.7L169.47 59.7L170.99 59.22L172 58.25L172.5 57.28L173.01 55.34L173.01 53.88L172.5 51.94L172 50.97L170.99 50L169.47 49.52L168.46 49.52M168.46 49.52L167.45 50L166.44 50.97L165.94 51.94L165.44 53.88L165.44 55.34L165.94 57.28L166.44 58.25L167.45 59.22L168.46 59.7M169.47 59.7L170.48 59.22L171.5 58.25L172 57.28L172.5 55.34L172.5 53.88L172 51.94L171.5 50.97L170.48 50L169.47 49.52M177.05 49.52L177.05 59.7M177.56 49.52L183.62 58.73M177.56 50.48L183.62 59.7M183.62 49.52L183.62 59.7M175.53 49.52L177.56 49.52M182.1 49.52L185.13 49.52M175.53 59.7L178.56 59.7M188.66 49.52L188.66 59.7M189.17 49.52L189.17 59.7M187.15 49.52L190.69 49.52M187.15 59.7L194.72 59.7L194.72 56.79L194.22 59.7M197.75 49.52L197.75 59.7M198.26 49.52L198.26 59.7M196.24 49.52L199.77 49.52M196.24 59.7L203.81 59.7L203.81 56.79L203.31 59.7M206.34 55.34L215.43 55.34M219.97 49.52L219.97 59.7M220.48 49.52L220.48 59.7M218.46 49.52L224.52 49.52L226.03 50L226.54 50.48L227.04 51.46L227.04 52.43L226.54 53.4L226.03 53.88L224.52 54.37M224.52 49.52L225.53 50L226.03 50.48L226.54 51.46L226.54 52.43L226.03 53.4L225.53 53.88L224.52 54.37M220.48 54.37L224.52 54.37L226.03 54.85L226.54 55.34L227.04 56.3L227.04 57.76L226.54 58.73L226.03 59.22L224.52 59.7L218.46 59.7M224.52 54.37L225.53 54.85L226.03 55.34L226.54 56.3L226.54 57.76L226.03 58.73L225.53 59.22L224.52 59.7M242.19 47.58L241.18 48.55L240.17 50L239.16 51.94L238.66 54.37L238.66 56.3L239.16 58.73L240.17 60.67L241.18 62.12L242.19 63.1M241.18 48.55L240.17 50.48L239.67 51.94L239.16 54.37L239.16 56.3L239.67 58.73L240.17 60.19L241.18 62.12M246.23 52.91L246.23 63.1M246.74 52.91L246.74 63.1M246.74 54.37L247.75 53.4L248.76 52.91L249.77 52.91L251.28 53.4L252.29 54.37L252.8 55.82L252.8 56.79L252.29 58.25L251.28 59.22L249.77 59.7L248.76 59.7L247.75 59.22L246.74 58.25M249.77 52.91L250.78 53.4L251.79 54.37L252.29 55.82L252.29 56.79L251.79 58.25L250.78 59.22L249.77 59.7M244.72 52.91L246.74 52.91M244.72 63.1L248.25 63.1M256.84 49.52L256.84 59.7M257.34 49.52L257.34 59.7M255.32 49.52L257.34 49.52M255.32 59.7L258.86 59.7M262.39 53.88L262.39 54.37L261.89 54.37L261.89 53.88L262.39 53.4L263.4 52.91L265.42 52.91L266.43 53.4L266.94 53.88L267.44 54.85L267.44 58.25L267.95 59.22L268.45 59.7M266.94 53.88L266.94 58.25L267.44 59.22L268.45 59.7L268.96 59.7M266.94 54.85L266.43 55.34L263.4 55.82L261.89 56.3L261.38 57.28L261.38 58.25L261.89 59.22L263.4 59.7L264.92 59.7L265.93 59.22L266.94 58.25M263.4 55.82L262.39 56.3L261.89 57.28L261.89 58.25L262.39 59.22L263.4 59.7M272.5 49.52L271.99 50L272.5 50.48L273 50L272.5 49.52M272.5 52.91L272.5 59.7M273 52.91L273 59.7M270.98 52.91L273 52.91M270.98 59.7L274.51 59.7M278.05 52.91L278.05 59.7M278.55 52.91L278.55 59.7M278.55 54.37L279.56 53.4L281.08 52.91L282.09 52.91L283.61 53.4L284.11 54.37L284.11 59.7M282.09 52.91L283.1 53.4L283.61 54.37L283.61 59.7M276.53 52.91L278.55 52.91M276.53 59.7L280.07 59.7M282.09 59.7L285.62 59.7M288.15 47.58L289.16 48.55L290.17 50L291.18 51.94L291.68 54.37L291.68 56.3L291.18 58.73L290.17 60.67L289.16 62.12L288.15 63.1M289.16 48.55L290.17 50.48L290.67 51.94L291.18 54.37L291.18 56.3L290.67 58.73L290.17 60.19L289.16 62.12" stroke="#0000ff" stroke-width="1.65" fill="none" stroke-linecap="round" stroke-linejoin="round"/>
<path d="M83.62 73.81L83.62 84M84.13 73.81L84.13 84M82.11 73.81L87.16 73.81L88.67 74.3L89.69 75.27L90.19 76.24L90.69 77.69L90.69 80.12L90.19 81.58L89.69 82.55L88.67 83.52L87.16 84L82.11 84M87.16 73.81L88.17 74.3L89.18 75.27L89.69 76.24L90.19 77.69L90.19 80.12L89.69 81.58L89.18 82.55L88.17 83.52L87.16 84M96.75 77.21L95.24 77.69L94.23 78.67L93.72 80.12L93.72 81.09L94.23 82.55L95.24 83.52L96.75 84L97.76 84L99.28 83.52L100.29 82.55L100.79 81.09L100.79 80.12L100.29 78.67L99.28 77.69L97.76 77.21L96.75 77.21M96.75 77.21L95.74 77.69L94.73 78.67L94.23 80.12L94.23 81.09L94.73 82.55L95.74 83.52L96.75 84M97.76 84L98.77 83.52L99.78 82.55L100.29 81.09L100.29 80.12L99.78 78.67L98.77 77.69L97.76 77.21M104.83 73.81L104.83 82.06L105.34 83.52L106.35 84L107.36 84L108.37 83.52L108.88 82.55M105.34 73.81L105.34 82.06L105.84 83.52L106.35 84M103.32 77.21L107.36 77.21M112.41 73.81L112.41 82.06L112.91 83.52L113.92 84L114.94 84L115.94 83.52L116.45 82.55M112.91 73.81L112.91 82.06L113.42 83.52L113.92 84M110.89 77.21L114.94 77.21M119.48 80.12L125.54 80.12L125.54 79.15L125.03 78.18L124.53 77.69L123.52 77.21L122 77.21L120.49 77.69L119.48 78.67L118.97 80.12L118.97 81.09L119.48 82.55L120.49 83.52L122 84L123.01 84L124.53 83.52L125.54 82.55M125.03 80.12L125.03 78.67L124.53 77.69M122 77.21L120.99 77.69L119.98 78.67L119.48 80.12L119.48 81.09L119.98 82.55L120.99 83.52L122 84M134.63 73.81L134.63 84M135.13 73.81L135.13 84M134.63 78.67L133.62 77.69L132.61 77.21L131.6 77.21L130.08 77.69L129.07 78.67L128.57 80.12L128.57 81.09L129.07 82.55L130.08 83.52L131.6 84L132.61 84L133.62 83.52L134.63 82.55M131.6 77.21L130.59 77.69L129.58 78.67L129.07 80.12L129.07 81.09L129.58 82.55L130.59 83.52L131.6 84M133.12 73.81L135.13 73.81M134.63 84L136.65 84M140.19 77.21L139.68 77.69L140.19 78.18L140.69 77.69L140.19 77.21M140.19 83.03L139.68 83.52L140.19 84L140.69 83.52L140.19 83.03M153.31 73.81L153.31 84M153.82 73.81L156.85 82.55M153.31 73.81L156.85 84M160.38 73.81L156.85 84M160.38 73.81L160.38 84M160.89 73.81L160.89 84M151.8 73.81L153.82 73.81M160.38 73.81L162.4 73.81M151.8 84L154.83 84M158.87 84L162.4 84M171.5 75.27L172 73.81L172 76.72L171.5 75.27L170.48 74.3L168.97 73.81L167.45 73.81L165.94 74.3L164.93 75.27L164.93 76.24L165.44 77.21L165.94 77.69L166.95 78.18L169.98 79.15L170.99 79.64L172 80.61M164.93 76.24L165.94 77.21L166.95 77.69L169.98 78.67L170.99 79.15L171.5 79.64L172 80.61L172 82.55L170.99 83.52L169.47 84L167.96 84L166.44 83.52L165.44 82.55L164.93 81.09L164.93 84L165.44 82.55M178.06 73.81L178.06 84M178.56 73.81L178.56 84M175.03 73.81L174.52 76.72L174.52 73.81L182.1 73.81L182.1 76.72L181.59 73.81M176.54 84L180.08 84M185.13 73.81L187.15 84M185.63 73.81L187.15 81.58M189.17 73.81L187.15 84M189.17 73.81L191.19 84M189.67 73.81L191.19 81.58M193.21 73.81L191.19 84M183.61 73.81L187.15 73.81M191.69 73.81L194.72 73.81M199.77 73.81L198.26 74.3L197.25 75.75L196.75 78.18L196.75 79.64L197.25 82.06L198.26 83.52L199.77 84L200.78 84L202.3 83.52L203.31 82.06L203.81 79.64L203.81 78.18L203.31 75.75L202.3 74.3L200.78 73.81L199.77 73.81M199.77 73.81L198.76 74.3L198.26 74.78L197.75 75.75L197.25 78.18L197.25 79.64L197.75 82.06L198.26 83.03L198.76 83.52L199.77 84M200.78 84L201.79 83.52L202.3 83.03L202.81 82.06L203.31 79.64L203.31 78.18L202.81 75.75L202.3 74.78L201.79 74.3L200.78 73.81M209.37 73.81L207.85 74.3L207.35 75.27L207.35 76.72L207.85 77.69L209.37 78.18L211.39 78.18L212.9 77.69L213.41 76.72L213.41 75.27L212.9 74.3L211.39 73.81L209.37 73.81M209.37 73.81L208.36 74.3L207.85 75.27L207.85 76.72L208.36 77.69L209.37 78.18M211.39 78.18L212.4 77.69L212.9 76.72L212.9 75.27L212.4 74.3L211.39 73.81M209.37 78.18L207.85 78.67L207.35 79.15L206.84 80.12L206.84 82.06L207.35 83.03L207.85 83.52L209.37 84L211.39 84L212.9 83.52L213.41 83.03L213.91 82.06L213.91 80.12L213.41 79.15L212.9 78.67L211.39 78.18M209.37 78.18L208.36 78.67L207.85 79.15L207.35 80.12L207.35 82.06L207.85 83.03L208.36 83.52L209.37 84M211.39 84L212.4 83.52L212.9 83.03L213.41 82.06L213.41 80.12L212.9 79.15L212.4 78.67L211.39 78.18M226.03 73.81L226.03 84M226.54 73.81L232.6 83.03M226.54 74.78L232.6 84M232.6 73.81L232.6 84M224.52 73.81L226.54 73.81M231.08 73.81L234.11 73.81M224.52 84L227.55 84M237.65 73.81L237.65 84M238.16 73.81L238.16 84M236.13 73.81L239.67 73.81M236.13 84L243.71 84L243.71 81.09L243.21 84M249.27 73.81L247.75 74.3L246.74 75.27L246.24 76.24L245.73 78.18L245.73 79.64L246.24 81.58L246.74 82.55L247.75 83.52L249.27 84L250.28 84L251.79 83.52L252.8 82.55L253.31 81.58L253.81 79.64L253.81 78.18L253.31 76.24L252.8 75.27L251.79 74.3L250.28 73.81L249.27 73.81M249.27 73.81L248.25 74.3L247.25 75.27L246.74 76.24L246.24 78.18L246.24 79.64L246.74 81.58L247.25 82.55L248.25 83.52L249.27 84M250.28 84L251.28 83.52L252.3 82.55L252.8 81.58L253.31 79.64L253.31 78.18L252.8 76.24L252.3 75.27L251.28 74.3L250.28 73.81M268.96 71.88L267.95 72.84L266.94 74.3L265.93 76.24L265.43 78.67L265.43 80.61L265.93 83.03L266.94 84.97L267.95 86.42L268.96 87.39M267.95 72.84L266.94 74.78L266.44 76.24L265.93 78.67L265.93 80.61L266.44 83.03L266.94 84.48L267.95 86.42M273 77.21L273 84M273.5 77.21L273.5 84M273.5 78.67L274.51 77.69L276.03 77.21L277.04 77.21L278.56 77.69L279.06 78.67L279.06 84M277.04 77.21L278.05 77.69L278.56 78.67L278.56 84M271.49 77.21L273.5 77.21M271.49 84L275.02 84M277.04 84L280.58 84M289.16 78.67L288.65 79.15L289.16 79.64L289.67 79.15L289.67 78.67L288.65 77.69L287.64 77.21L286.13 77.21L284.62 77.69L283.61 78.67L283.1 80.12L283.1 81.09L283.61 82.55L284.62 83.52L286.13 84L287.14 84L288.65 83.52L289.67 82.55M286.13 77.21L285.12 77.69L284.11 78.67L283.61 80.12L283.61 81.09L284.11 82.55L285.12 83.52L286.13 84M292.69 71.88L293.71 72.84L294.72 74.3L295.73 76.24L296.23 78.67L296.23 80.61L295.73 83.03L294.72 84.97L293.71 86.42L292.69 87.39M293.71 72.84L294.72 74.78L295.22 76.24L295.73 78.67L295.73 80.61L295.22 83.03L294.72 84.48L293.71 86.42" stroke="#ff0000" stroke-width="1.65" fill="none" stroke-linecap="round" stroke-linejoin="round"/>
<path d="M403.98 27.22L404.48 25.77L404.48 28.68L403.98 27.22L402.97 26.25L401.45 25.77L399.94 25.77L398.42 26.25L397.41 27.22L397.41 28.19L397.92 29.16L398.42 29.65L399.44 30.13L402.46 31.1L403.47 31.59L404.48 32.55M397.41 28.19L398.42 29.16L399.44 29.65L402.46 30.62L403.47 31.1L403.98 31.59L404.48 32.55L404.48 34.5L403.47 35.47L401.96 35.95L400.44 35.95L398.93 35.47L397.92 34.5L397.41 33.04L397.41 35.95L397.92 34.5M410.54 29.16L409.03 29.65L408.02 30.62L407.51 32.07L407.51 33.04L408.02 34.5L409.03 35.47L410.54 35.95L411.55 35.95L413.07 35.47L414.08 34.5L414.58 33.04L414.58 32.07L414.08 30.62L413.07 29.65L411.55 29.16L410.54 29.16M410.54 29.16L409.53 29.65L408.52 30.62L408.02 32.07L408.02 33.04L408.52 34.5L409.53 35.47L410.54 35.95M411.55 35.95L412.56 35.47L413.57 34.5L414.08 33.04L414.08 32.07L413.57 30.62L412.56 29.65L411.55 29.16M418.62 25.77L418.62 35.95M419.13 25.77L419.13 35.95M417.11 25.77L419.13 25.77M417.11 35.95L420.64 35.95M424.18 25.77L423.67 26.25L424.18 26.74L424.69 26.25L424.18 25.77M424.18 29.16L424.18 35.95M424.69 29.16L424.69 35.95M422.66 29.16L424.69 29.16M422.66 35.95L426.2 35.95M434.78 25.77L434.78 35.95M435.29 25.77L435.29 35.95M434.78 30.62L433.77 29.65L432.76 29.16L431.75 29.16L430.24 29.65L429.23 30.62L428.72 32.07L428.72 33.04L429.23 34.5L430.24 35.47L431.75 35.95L432.76 35.95L433.77 35.47L434.78 34.5M431.75 29.16L430.75 29.65L429.73 30.62L429.23 32.07L429.23 33.04L429.73 34.5L430.75 35.47L431.75 35.95M433.27 25.77L435.29 25.77M434.78 35.95L436.8 35.95M440.34 29.16L439.83 29.65L440.34 30.13L440.84 29.65L440.34 29.16M440.34 34.98L439.83 35.47L440.34 35.95L440.84 35.47L440.34 34.98M453.47 25.77L453.47 35.95M453.97 25.77L453.97 35.95M457 28.68L457 32.55M451.95 25.77L460.03 25.77L460.03 28.68L459.53 25.77M453.97 30.62L457 30.62M451.95 35.95L455.49 35.95M466.09 25.77L464.58 26.25L463.57 27.22L463.06 28.19L462.56 30.13L462.56 31.59L463.06 33.53L463.57 34.5L464.58 35.47L466.09 35.95L467.1 35.95L468.62 35.47L469.63 34.5L470.13 33.53L470.64 31.59L470.64 30.13L470.13 28.19L469.63 27.22L468.62 26.25L467.1 25.77L466.09 25.77M466.09 25.77L465.08 26.25L464.07 27.22L463.57 28.19L463.06 30.13L463.06 31.59L463.57 33.53L464.07 34.5L465.08 35.47L466.09 35.95M467.1 35.95L468.12 35.47L469.12 34.5L469.63 33.53L470.13 31.59L470.13 30.13L469.63 28.19L469.12 27.22L468.12 26.25L467.1 25.77M474.68 25.77L474.68 35.95M475.18 25.77L481.25 34.98M475.18 26.74L481.25 35.95M481.25 25.77L481.25 35.95M473.16 25.77L475.18 25.77M479.73 25.77L482.76 25.77M473.16 35.95L476.19 35.95M486.29 25.77L486.29 35.95M486.8 25.77L486.8 35.95M484.78 25.77L488.31 25.77M484.78 35.95L492.35 35.95L492.35 33.04L491.85 35.95M495.38 25.77L495.38 35.95M495.89 25.77L495.89 35.95M493.87 25.77L497.4 25.77M493.87 35.95L501.44 35.95L501.44 33.04L500.94 35.95M503.97 31.59L513.06 31.59M523.66 27.22L524.17 28.68L524.17 25.77L523.66 27.22L522.65 26.25L521.14 25.77L520.13 25.77L518.62 26.25L517.61 27.22L517.1 28.19L516.6 29.65L516.6 32.07L517.1 33.53L517.61 34.5L518.62 35.47L520.13 35.95L521.14 35.95L522.65 35.47L523.66 34.5L524.17 33.53M520.13 25.77L519.12 26.25L518.11 27.22L517.61 28.19L517.1 29.65L517.1 32.07L517.61 33.53L518.11 34.5L519.12 35.47L520.13 35.95M539.32 23.83L538.31 24.8L537.3 26.25L536.29 28.19L535.78 30.62L535.78 32.55L536.29 34.98L537.3 36.92L538.31 38.38L539.32 39.35M538.31 24.8L537.3 26.74L536.79 28.19L536.29 30.62L536.29 32.55L536.79 34.98L537.3 36.44L538.31 38.38M543.36 29.16L543.36 39.35M543.87 29.16L543.87 39.35M543.87 30.62L544.88 29.65L545.88 29.16L546.89 29.16L548.41 29.65L549.42 30.62L549.92 32.07L549.92 33.04L549.42 34.5L548.41 35.47L546.89 35.95L545.88 35.95L544.88 35.47L543.87 34.5M546.89 29.16L547.9 29.65L548.91 30.62L549.42 32.07L549.42 33.04L548.91 34.5L547.9 35.47L546.89 35.95M541.85 29.16L543.87 29.16M541.85 39.35L545.38 39.35M553.96 25.77L553.96 35.95M554.47 25.77L554.47 35.95M552.45 25.77L554.47 25.77M552.45 35.95L555.98 35.95M559.52 30.13L559.52 30.62L559.01 30.62L559.01 30.13L559.52 29.65L560.53 29.16L562.55 29.16L563.56 29.65L564.06 30.13L564.57 31.1L564.57 34.5L565.08 35.47L565.58 35.95M564.06 30.13L564.06 34.5L564.57 35.47L565.58 35.95L566.09 35.95M564.06 31.1L563.56 31.59L560.53 32.07L559.01 32.55L558.51 33.53L558.51 34.5L559.01 35.47L560.53 35.95L562.04 35.95L563.05 35.47L564.06 34.5M560.53 32.07L559.52 32.55L559.01 33.53L559.01 34.5L559.52 35.47L560.53 35.95M569.62 25.77L569.12 26.25L569.62 26.74L570.12 26.25L569.62 25.77M569.62 29.16L569.62 35.95M570.12 29.16L570.12 35.95M568.11 29.16L570.12 29.16M568.11 35.95L571.64 35.95M575.17 29.16L575.17 35.95M575.68 29.16L575.68 35.95M575.68 30.62L576.69 29.65L578.2 29.16L579.21 29.16L580.73 29.65L581.24 30.62L581.24 35.95M579.21 29.16L580.22 29.65L580.73 30.62L580.73 35.95M573.66 29.16L575.68 29.16M573.66 35.95L577.19 35.95M579.21 35.95L582.75 35.95M585.27 23.83L586.28 24.8L587.29 26.25L588.3 28.19L588.81 30.62L588.81 32.55L588.3 34.98L587.29 36.92L586.28 38.38L585.27 39.35M586.28 24.8L587.29 26.74L587.8 28.19L588.3 30.62L588.3 32.55L587.8 34.98L587.29 36.44L586.28 38.38" stroke="#000" stroke-width="1.65" fill="none" stroke-linecap="round" stroke-linejoin="round"/>
<path d="M398.32 49.52L398.32 59.7M398.83 49.52L398.83 59.7M396.81 49.52L401.86 49.52L403.38 50L404.38 50.97L404.89 51.94L405.4 53.4L405.4 55.82L404.89 57.28L404.38 58.25L403.38 59.22L401.86 59.7L396.81 59.7M401.86 49.52L402.87 50L403.88 50.97L404.38 51.94L404.89 53.4L404.89 55.82L404.38 57.28L403.88 58.25L402.87 59.22L401.86 59.7M411.45 52.91L409.94 53.4L408.93 54.37L408.43 55.82L408.43 56.79L408.93 58.25L409.94 59.22L411.45 59.7L412.47 59.7L413.98 59.22L414.99 58.25L415.5 56.79L415.5 55.82L414.99 54.37L413.98 53.4L412.47 52.91L411.45 52.91M411.45 52.91L410.44 53.4L409.44 54.37L408.93 55.82L408.93 56.79L409.44 58.25L410.44 59.22L411.45 59.7M412.47 59.7L413.48 59.22L414.49 58.25L414.99 56.79L414.99 55.82L414.49 54.37L413.48 53.4L412.47 52.91M419.54 49.52L419.54 57.76L420.04 59.22L421.05 59.7L422.06 59.7L423.07 59.22L423.57 58.25M420.04 49.52L420.04 57.76L420.55 59.22L421.05 59.7M418.02 52.91L422.06 52.91M427.11 49.52L427.11 57.76L427.62 59.22L428.62 59.7L429.63 59.7L430.64 59.22L431.15 58.25M427.62 49.52L427.62 57.76L428.12 59.22L428.62 59.7M425.6 52.91L429.63 52.91M434.18 55.82L440.24 55.82L440.24 54.85L439.74 53.88L439.23 53.4L438.22 52.91L436.71 52.91L435.19 53.4L434.18 54.37L433.68 55.82L433.68 56.79L434.18 58.25L435.19 59.22L436.71 59.7L437.72 59.7L439.23 59.22L440.24 58.25M439.74 55.82L439.74 54.37L439.23 53.4M436.71 52.91L435.69 53.4L434.69 54.37L434.18 55.82L434.18 56.79L434.69 58.25L435.69 59.22L436.71 59.7M449.33 49.52L449.33 59.7M449.84 49.52L449.84 59.7M449.33 54.37L448.32 53.4L447.31 52.91L446.3 52.91L444.79 53.4L443.78 54.37L443.27 55.82L443.27 56.79L443.78 58.25L444.79 59.22L446.3 59.7L447.31 59.7L448.32 59.22L449.33 58.25M446.3 52.91L445.29 53.4L444.28 54.37L443.78 55.82L443.78 56.79L444.28 58.25L445.29 59.22L446.3 59.7M447.81 49.52L449.84 49.52M449.33 59.7L451.35 59.7M454.88 52.91L454.38 53.4L454.88 53.88L455.39 53.4L454.88 52.91M454.88 58.73L454.38 59.22L454.88 59.7L455.39 59.22L454.88 58.73M468.01 49.52L468.01 59.7M468.52 49.52L471.55 58.25M468.01 49.52L471.55 59.7M475.09 49.52L471.55 59.7M475.09 49.52L475.09 59.7M475.59 49.52L475.59 59.7M466.5 49.52L468.52 49.52M475.09 49.52L477.11 49.52M466.5 59.7L469.53 59.7M473.57 59.7L477.11 59.7M486.19 50.97L486.7 49.52L486.7 52.43L486.19 50.97L485.19 50L483.67 49.52L482.16 49.52L480.64 50L479.63 50.97L479.63 51.94L480.13 52.91L480.64 53.4L481.65 53.88L484.68 54.85L485.69 55.34L486.7 56.3M479.63 51.94L480.64 52.91L481.65 53.4L484.68 54.37L485.69 54.85L486.19 55.34L486.7 56.3L486.7 58.25L485.69 59.22L484.18 59.7L482.66 59.7L481.14 59.22L480.13 58.25L479.63 56.79L479.63 59.7L480.13 58.25M492.76 49.52L492.76 59.7M493.26 49.52L493.26 59.7M489.73 49.52L489.23 52.43L489.23 49.52L496.8 49.52L496.8 52.43L496.3 49.52M491.25 59.7L494.78 59.7M499.83 49.52L501.85 59.7M500.34 49.52L501.85 57.28M503.87 49.52L501.85 59.7M503.87 49.52L505.89 59.7M504.38 49.52L505.89 57.28M507.91 49.52L505.89 59.7M498.31 49.52L501.85 49.52M506.39 49.52L509.43 49.52M514.48 49.52L512.96 50L511.95 51.46L511.44 53.88L511.44 55.34L511.95 57.76L512.96 59.22L514.48 59.7L515.49 59.7L517 59.22L518.01 57.76L518.51 55.34L518.51 53.88L518.01 51.46L517 50L515.49 49.52L514.48 49.52M514.48 49.52L513.47 50L512.96 50.48L512.46 51.46L511.95 53.88L511.95 55.34L512.46 57.76L512.96 58.73L513.47 59.22L514.48 59.7M515.49 59.7L516.5 59.22L517 58.73L517.5 57.76L518.01 55.34L518.01 53.88L517.5 51.46L517 50.48L516.5 50L515.49 49.52M524.07 49.52L522.56 50L522.05 50.97L522.05 52.43L522.56 53.4L524.07 53.88L526.09 53.88L527.61 53.4L528.11 52.43L528.11 50.97L527.61 50L526.09 49.52L524.07 49.52M524.07 49.52L523.06 50L522.56 50.97L522.56 52.43L523.06 53.4L524.07 53.88M526.09 53.88L527.1 53.4L527.61 52.43L527.61 50.97L527.1 50L526.09 49.52M524.07 53.88L522.56 54.37L522.05 54.85L521.54 55.82L521.54 57.76L522.05 58.73L522.56 59.22L524.07 59.7L526.09 59.7L527.61 59.22L528.11 58.73L528.62 57.76L528.62 55.82L528.11 54.85L527.61 54.37L526.09 53.88M524.07 53.88L523.06 54.37L522.56 54.85L522.05 55.82L522.05 57.76L522.56 58.73L523.06 59.22L524.07 59.7M526.09 59.7L527.1 59.22L527.61 58.73L528.11 57.76L528.11 55.82L527.61 54.85L527.1 54.37L526.09 53.88M540.74 49.52L540.74 59.7M541.24 49.52L547.3 58.73M541.24 50.48L547.3 59.7M547.3 49.52L547.3 59.7M539.22 49.52L541.24 49.52M545.78 49.52L548.82 49.52M539.22 59.7L542.25 59.7M552.35 49.52L552.35 59.7M552.86 49.52L558.91 58.73M552.86 50.48L558.91 59.7M558.91 49.52L558.91 59.7M550.84 49.52L552.86 49.52M557.4 49.52L560.43 49.52M550.84 59.7L553.87 59.7M563.97 49.52L563.97 59.7M564.47 49.52L564.47 59.7M562.45 49.52L565.99 49.52M562.45 59.7L570.03 59.7L570.03 56.79L569.52 59.7M575.58 49.52L574.07 50L573.06 50.97L572.55 51.94L572.05 53.88L572.05 55.34L572.55 57.28L573.06 58.25L574.07 59.22L575.58 59.7L576.59 59.7L578.11 59.22L579.12 58.25L579.62 57.28L580.12 55.34L580.12 53.88L579.62 51.94L579.12 50.97L578.11 50L576.59 49.52L575.58 49.52M575.58 49.52L574.57 50L573.56 50.97L573.06 51.94L572.55 53.88L572.55 55.34L573.06 57.28L573.56 58.25L574.57 59.22L575.58 59.7M576.59 59.7L577.6 59.22L578.61 58.25L579.12 57.28L579.62 55.34L579.62 53.88L579.12 51.94L578.61 50.97L577.6 50L576.59 49.52M595.28 47.58L594.27 48.55L593.26 50L592.25 51.94L591.74 54.37L591.74 56.3L592.25 58.73L593.26 60.67L594.27 62.12L595.28 63.1M594.27 48.55L593.26 50.48L592.75 51.94L592.25 54.37L592.25 56.3L592.75 58.73L593.26 60.19L594.27 62.12M599.32 52.91L599.32 59.7M599.82 52.91L599.82 59.7M599.82 54.37L600.83 53.4L602.35 52.91L603.36 52.91L604.87 53.4L605.38 54.37L605.38 59.7M603.36 52.91L604.37 53.4L604.87 54.37L604.87 59.7M597.8 52.91L599.82 52.91M597.8 59.7L601.34 59.7M603.36 59.7L606.89 59.7M615.48 54.37L614.97 54.85L615.48 55.34L615.98 54.85L615.98 54.37L614.97 53.4L613.96 52.91L612.45 52.91L610.93 53.4L609.92 54.37L609.41 55.82L609.41 56.79L609.92 58.25L610.93 59.22L612.45 59.7L613.46 59.7L614.97 59.22L615.98 58.25M612.45 52.91L611.44 53.4L610.43 54.37L609.92 55.82L609.92 56.79L610.43 58.25L611.44 59.22L612.45 59.7M619.01 47.58L620.02 48.55L621.03 50L622.04 51.94L622.55 54.37L622.55 56.3L622.04 58.73L621.03 60.67L620.02 62.12L619.01 63.1M620.02 48.55L621.03 50.48L621.54 51.94L622.04 54.37L622.04 56.3L621.54 58.73L621.03 60.19L620.02 62.12" stroke="#ff0000" stroke-width="1.65" fill="none" stroke-linecap="round" stroke-linejoin="round"/>
<path d="M199 138.51L197.44 139L196.4 139.97L195.88 140.94L195.36 142.88L195.36 144.33L195.88 146.27L196.4 147.24L197.44 148.21L199 148.7L200.04 148.7L201.6 148.21L202.64 147.24L203.16 146.27L203.68 144.33L203.68 142.88L203.16 140.94L202.64 139.97L201.6 139L200.04 138.51L199 138.51M199 138.51L197.96 139L196.92 139.97L196.4 140.94L195.88 142.88L195.88 144.33L196.4 146.27L196.92 147.24L197.96 148.21L199 148.7M200.04 148.7L201.08 148.21L202.12 147.24L202.64 146.27L203.16 144.33L203.16 142.88L202.64 140.94L202.12 139.97L201.08 139L200.04 138.51M197.44 147.73L197.44 147.24L197.96 146.27L199 145.79L199.52 145.79L200.56 146.27L201.08 147.24L201.6 150.64L202.12 151.12L203.16 151.12L203.68 150.16L203.68 149.67M201.08 147.24L201.6 149.19L202.12 150.16L202.64 150.64L203.16 150.64L203.68 150.16" stroke="#000" stroke-width="1.65" fill="none" stroke-linecap="round" stroke-linejoin="round"/>
<path d="M207.16 135.18L207.49 135.54L207.16 135.9L206.83 135.54L206.83 135.18L207.16 134.46L207.49 134.1L208.48 133.74L209.8 133.74L210.79 134.1L211.12 134.46L211.45 135.18L211.45 135.9L211.12 136.62L210.13 137.34L208.48 138.06L207.82 138.42L207.16 139.14L206.83 140.22L206.83 141.3M209.8 133.74L210.46 134.1L210.79 134.46L211.12 135.18L211.12 135.9L210.79 136.62L209.8 137.34L208.48 138.06M206.83 140.58L207.16 140.22L207.82 140.22L209.47 140.94L210.46 140.94L211.12 140.58L211.45 140.22M207.82 140.22L209.47 141.3L210.79 141.3L211.12 140.94L211.45 140.22L211.45 139.5" stroke="#000" stroke-width="1.4" fill="none" stroke-linecap="round" stroke-linejoin="round"/>
<path d="M214.52 142.88L223.88 142.88M214.52 145.79L223.88 145.79M232.2 139.48L232.2 148.7M232.72 138.51L232.72 148.7M232.72 138.51L227 145.79L235.32 145.79M230.64 148.7L234.28 148.7M253.52 139.97L254.04 141.42L254.04 138.51L253.52 139.97L252.48 139L250.92 138.51L249.88 138.51L248.32 139L247.28 139.97L246.76 140.94L246.24 142.39L246.24 144.82L246.76 146.27L247.28 147.24L248.32 148.21L249.88 148.7L250.92 148.7L252.48 148.21L253.52 147.24M249.88 138.51L248.84 139L247.8 139.97L247.28 140.94L246.76 142.39L246.76 144.82L247.28 146.27L247.8 147.24L248.84 148.21L249.88 148.7M253.52 144.82L253.52 148.7M254.04 144.82L254.04 148.7M251.96 144.82L255.6 144.82M258.72 144.82L264.96 144.82L264.96 143.85L264.44 142.88L263.92 142.39L262.88 141.91L261.32 141.91L259.76 142.39L258.72 143.36L258.2 144.82L258.2 145.79L258.72 147.24L259.76 148.21L261.32 148.7L262.36 148.7L263.92 148.21L264.96 147.24M264.44 144.82L264.44 143.36L263.92 142.39M261.32 141.91L260.28 142.39L259.24 143.36L258.72 144.82L258.72 145.79L259.24 147.24L260.28 148.21L261.32 148.7M268.08 138.51L271.72 148.7M268.6 138.51L271.72 147.24M275.36 138.51L271.72 148.7M267.04 138.51L270.16 138.51M273.28 138.51L276.4 138.51" stroke="#000" stroke-width="1.65" fill="none" stroke-linecap="round" stroke-linejoin="round"/>
<path d="M278.54 135.18L278.87 135.54L278.54 135.9L278.21 135.54L278.21 135.18L278.54 134.46L278.87 134.1L279.86 133.74L281.18 133.74L282.17 134.1L282.5 134.46L282.83 135.18L282.83 135.9L282.5 136.62L281.51 137.34L279.86 138.06L279.2 138.42L278.54 139.14L278.21 140.22L278.21 141.3M281.18 133.74L281.84 134.1L282.17 134.46L282.5 135.18L282.5 135.9L282.17 136.62L281.18 137.34L279.86 138.06M278.21 140.58L278.54 140.22L279.2 140.22L280.85 140.94L281.84 140.94L282.5 140.58L282.83 140.22M279.2 140.22L280.85 141.3L282.17 141.3L282.5 140.94L282.83 140.22L282.83 139.5" stroke="#000" stroke-width="1.4" fill="none" stroke-linecap="round" stroke-linejoin="round"/>
</svg></body></html>
